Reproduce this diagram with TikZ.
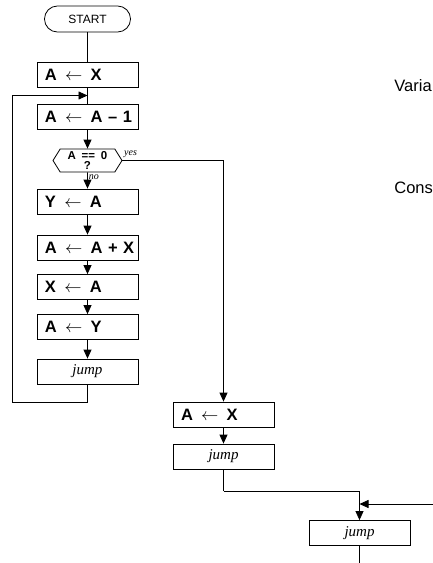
\documentclass[tikz,border=0pt]{standalone}
\usepackage{fontspec}
\setmainfont{Liberation Serif}
\setsansfont{Liberation Sans}
\usetikzlibrary{arrows.meta, shapes.symbols, calc}
\newcommand{\asgn}[2]{\mbox{#1\enspace$\leftarrow$\enspace #2}}

\begin{document}
\begin{tikzpicture}[x=1pt, y=-1pt, line width=0.8pt,
        box/.style={draw, rectangle, minimum width=101pt, minimum height=25pt, inner sep=0pt,
            text width=85pt, align=left, font=\fontsize{16.5}{18}\selectfont\sffamily\bfseries},
        jumpbox/.style={box, align=center, font=\fontsize{15}{18}\selectfont\itshape},
        term/.style={draw, rectangle, rounded corners=12.9pt, minimum width=86pt, minimum height=26pt,
            inner sep=0pt, font=\fontsize{12}{14}\selectfont\sffamily},
        cond/.style={draw, signal, signal to=west and east, signal pointer angle=116,
            minimum width=69pt, minimum height=23pt, inner sep=0pt, align=center,
            font=\fontsize{11.5}{10.5}\selectfont\sffamily\bfseries},
        tag/.style={font=\fontsize{10}{12}\selectfont\itshape, inner sep=0pt},
        side/.style={font=\fontsize{16.5}{18}\selectfont\sffamily, inner sep=0pt, anchor=base west},
        arr/.style={-{Triangle[length=9pt, width=8pt]}}]
        \useasboundingbox (0,0) rectangle (433,563);
        \node[term] (start) at (87.5,19) {START};
        \node[box] (ax) at (87.5,74.5) {\asgn{A}{X}};
        \node[box] (dec) at (87.5,116.5) {\asgn{A}{A -- 1}};
        \node[cond] (test) at (87.5,160.5) {A\enspace==\enspace0\\?};
        \node[box] (ya) at (87.5,201.5) {\asgn{Y}{A}};
        \node[box] (add) at (87.5,247.5) {\asgn{A}{A + X}};
        \node[box] (xa) at (87.5,287) {\asgn{X}{A}};
        \node[box] (ay) at (87.5,327) {\asgn{A}{Y}};
        \node[jumpbox] (jmpa) at (87.5,371.5) {jump};
        \node[box] (axb) at (223.5,414.5) {\asgn{A}{X}};
        \node[jumpbox] (jmpb) at (223.5,456.5) {jump};
        \node[jumpbox] (jmpc) at (359.5,533) {jump};
        \node[side] (vars) at (394,91) {Varia};
        \node[side] (consts) at (394,193) {Cons};
        \coordinate (back) at (12,402);
        \coordinate (join) at ($(ax.south)!0.5!(dec.north)$);
        \coordinate (turn) at (223.5,491);
        \coordinate (inflow) at (433,504);
        \coordinate (out) at (359.5,563);
        \draw (start) -- (ax);
        \draw (ax) -- (dec);
        \draw[arr] (dec) -- (test);
        \draw[arr] (test) -- (ya) node[tag, pos=0.3, right=1pt] {no};
        \draw[arr] (ya) -- (add);
        \draw[arr] (add) -- (xa);
        \draw[arr] (xa) -- (ay);
        \draw[arr] (ay) -- (jmpa);
        \draw[arr] (jmpa.south) |- (back) |- (join);
        \draw[arr] (test.east) -| (axb.north) node[tag, pos=0.04, above=2pt] {yes};
        \draw[arr] (axb) -- (jmpb);
        \draw (jmpb.south) -- (turn);
        \draw[arr] (turn) -| (jmpc.north);
        \draw[arr] (inflow) -- (inflow -| jmpc.north);
        \draw (jmpc) -- (out);
    \end{tikzpicture}
\end{document}
